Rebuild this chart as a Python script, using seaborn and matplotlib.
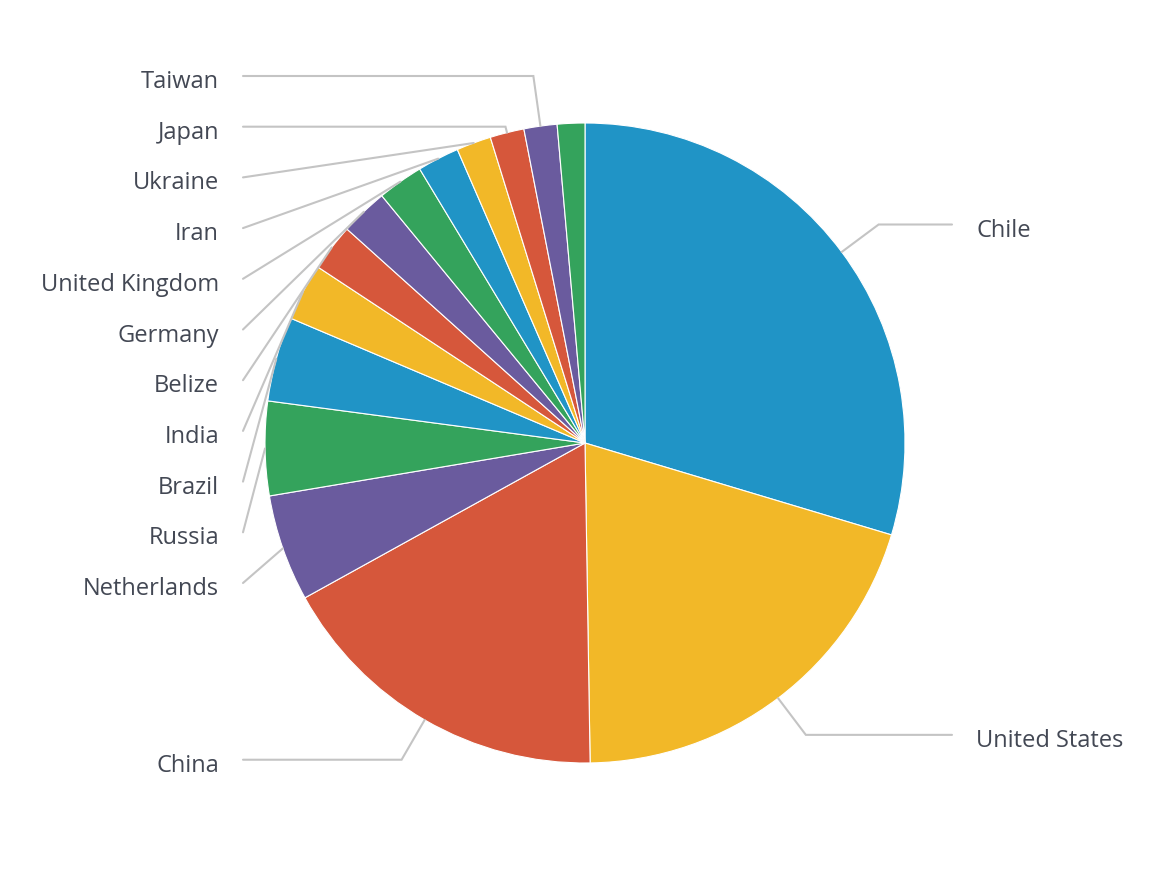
import matplotlib
matplotlib.use('Agg')
import matplotlib.pyplot as plt
import seaborn as sns
import numpy as np

# share of total by country, clockwise from 12 o'clock
countries = ['Chile', 'United States', 'China', 'Netherlands', 'Russia', 'Brazil',
             'India', 'Belize', 'Germany', 'United Kingdom', 'Iran', 'Ukraine',
             'Japan', 'Taiwan', '']
shares = [29.64, 20.11, 17.22, 5.39, 4.75, 4.28, 2.89, 2.38, 2.40, 2.31, 2.11,
          1.75, 1.72, 1.67, 1.39]
base_colors = ['#2094c6', '#f2b828', '#d6573b', '#6a5b9e', '#34a35c']

sns.set_theme(style='white')
plt.rcParams['font.family'] = ['Open Sans', 'DejaVu Sans']

W, H = 1152, 890
CX, CY, R = 585, 443, 320          # pixel coords, y measured from top
LABEL_DIST = 46
SLOT = 50.7
TEXT_COLOR = '#434854'
LINE_COLOR = '#c4c4c4'


def up(y):
    # pixel row -> axes y (y up)
    return H - y


def spread(targets, size, lo, hi):
    """Push label rows apart so they don't overlap (keeps groups near their targets)."""
    order = list(np.argsort(targets))
    groups = [[i] for i in order]
    starts = [min(max(targets[i], lo), hi) for i in order]
    changed = True
    while changed:
        changed = False
        for k in range(len(groups) - 1):
            if starts[k] + len(groups[k]) * size > starts[k + 1]:
                members = groups[k] + groups[k + 1]
                n = len(members)
                s = np.mean([targets[i] for i in members]) - (n - 1) * size / 2
                s = min(max(s, lo), hi - (n - 1) * size)
                groups[k:k + 2] = [members]
                starts[k:k + 2] = [s]
                changed = True
                break
    pos = {}
    for g, s in zip(groups, starts):
        for j, i in enumerate(g):
            pos[i] = s + j * size
    return pos


fig = plt.figure(figsize=(W / 100, H / 100), dpi=100)
ax = fig.add_axes([0, 0, 1, 1])

palette = sns.color_palette(base_colors, n_colors=len(shares))
ax.pie(shares, colors=palette, startangle=90, counterclock=False,
       center=(CX, up(CY)), radius=R,
       wedgeprops=dict(edgecolor='white', linewidth=0.8))

vals = np.array(shares, dtype=float)
mid = (np.cumsum(vals) - vals / 2) / vals.sum() * 2 * np.pi   # clockwise from top
natural = CY - (R + LABEL_DIST) * np.cos(mid)                  # pixel rows

labelled = [i for i, name in enumerate(countries) if name]
for side in ('right', 'left'):
    idx = [i for i in labelled if (mid[i] < np.pi) == (side == 'right')]
    rows = spread([natural[i] for i in idx], SLOT, 76, 800)
    for k, i in enumerate(idx):
        y_l = rows[k]
        th = mid[i]
        px, py = CX + R * np.sin(th), CY - R * np.cos(th)
        if side == 'right':
            ax_x, txt_x, ha = CX + 367, CX + 391, 'left'
        else:
            ax_x, txt_x, ha = CX - 342, CX - 366, 'right'
        xs, ys = [ax_x], [y_l]
        c = np.cos(th)
        if abs(c) > 1e-6:
            t = (CY - y_l) / c
            crook = CX + t * np.sin(th)
            lo_x, hi_x = sorted([ax_x, px])
            if t > 0 and lo_x <= crook <= hi_x:
                xs.append(crook)
                ys.append(y_l)
        xs.append(px)
        ys.append(py)
        ax.plot(xs, [up(v) for v in ys], color=LINE_COLOR, lw=1.5,
                solid_joinstyle='miter', zorder=1)
        ax.text(txt_x, up(y_l + 12), countries[i], ha=ha, va='baseline',
                fontsize=17, color=TEXT_COLOR)

ax.set_xlim(0, W)
ax.set_ylim(0, H)
ax.set_aspect('equal')
ax.axis('off')

fig.savefig('out.png', dpi=100, facecolor='white')
